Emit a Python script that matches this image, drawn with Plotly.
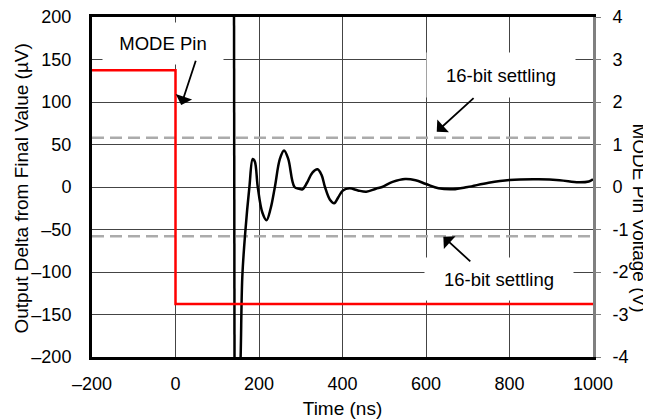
import plotly.graph_objects as go

# datos leidos de la grafica
# caida inicial de la salida (sale por arriba y entra por abajo)
t_caida = [140.0, 141.5]
v_caida = [260, -260]

# oscilacion y asentamiento de la salida (µV)
t_salida = [152, 156, 160, 167, 177, 185, 190, 197, 208, 218, 228, 238, 250, 260, 270,
            285, 296, 304, 315, 328, 340, 350, 358, 370, 380, 390, 401, 417, 437, 457,
            480, 495, 520, 550, 575, 600, 630, 665, 700, 750, 800, 870, 920, 965, 990, 1000]
v_salida = [-260, -200, -106, -54, 0, 33, 30, 0, -30, -39, -25, 0, 33, 43, 33,
            0, -2, -2.7, 5, 17, 20.8, 14, 0, -15, -19.2, -12, -4, -1.6, -4, -5.5,
            -2, 0, 6, 9.5, 8, 3.5, -1.5, -2.7, 0, 5, 8.2, 9, 8, 5.5, 6.5, 9]

# voltaje del pin MODE (V)
t_modo = [-200, 0, 0, 1000]
v_modo = [2.75, 2.75, -2.75, -2.75]

# limites de asentamiento de 16 bits (µV)
t_limite = [-200, 1000]
limite_sup = [58, 58]
limite_inf = [-58, -58]

# etiquetas de los ejes
x_ticks = [-200, 0, 200, 400, 600, 800, 1000]
x_text = ['–200', '0', '200', '400', '600', '800', '1000']
y_ticks = [-200, -150, -100, -50, 0, 50, 100, 150, 200]
y_text = ['–200', '–150', '–100', '–50', '0', '50', '100', '150', '200']
y2_ticks = [-4, -3, -2, -1, 0, 1, 2, 3, 4]
y2_text = ['-4', '-3', '-2', '-1', '0', '1', '2', '3', '4']

fuente = 'Liberation Sans, Arial, sans-serif'

fig = go.Figure()

# lineas de asentamiento
for lim in [limite_sup, limite_inf]:
    fig.add_trace(go.Scatter(x=t_limite, y=lim, mode='lines',
                             line=dict(color='#ababab', width=2.5, dash='12px,6px')))

# pin MODE en el eje derecho
fig.add_trace(go.Scatter(x=t_modo, y=v_modo, mode='lines', yaxis='y2',
                         line=dict(color='#ff0000', width=2.5)))

# salida
fig.add_trace(go.Scatter(x=t_caida, y=v_caida, mode='lines',
                         line=dict(color='black', width=2.5)))
fig.add_trace(go.Scatter(x=t_salida, y=v_salida, mode='lines',
                         line=dict(color='black', width=2.5, shape='spline')))

# textos con fondo blanco
fig.add_annotation(x=-29, y=169, text='MODE Pin', showarrow=False, bgcolor='white',
                   width=120, height=41, borderpad=0, font=dict(size=18.5))
fig.add_annotation(x=779, y=132, text='16-bit settling', showarrow=False, bgcolor='white',
                   width=148, height=44, borderpad=0, font=dict(size=18.5))
fig.add_annotation(x=775, y=-108, text='16-bit settling', showarrow=False, bgcolor='white',
                   width=148, height=42, borderpad=0, font=dict(size=18.5))

# flechas
flechas = [(13.7, 96.5, 49.7, 150.2), (625.7, 65.1, 717.6, 106.2), (641.5, -58.5, 709.7, -89.1)]
for x, y, ax, ay in flechas:
    fig.add_annotation(x=x, y=y, ax=ax, ay=ay, xref='x', yref='y', axref='x', ayref='y',
                       text='', showarrow=True, arrowhead=1, arrowsize=1.6,
                       arrowwidth=1.8, arrowcolor='black')

# titulos de los ejes y
fig.add_annotation(x=-0.14, y=0.495, xref='paper', yref='paper', text='Output Delta from Final Value (µV)',
                   textangle=-90, showarrow=False, xanchor='center', yanchor='middle',
                   font=dict(size=19))
fig.add_annotation(x=1.092, y=0.41, xref='paper', yref='paper', text='MODE Pin Voltage (V)',
                   textangle=90, showarrow=False, xanchor='center', yanchor='middle',
                   font=dict(size=19))

# la pagina deja 8 px de margen en el body, se descuentan aqui
fig.update_layout(
    width=643, height=411,
    margin=dict(l=84, r=58, t=9, b=62),
    plot_bgcolor='white', paper_bgcolor='white',
    showlegend=False,
    font=dict(family=fuente, size=18, color='black'),
    xaxis=dict(range=[-200, 1000], tickvals=x_ticks, ticktext=x_text, automargin=False,
               showgrid=True, gridcolor='#444', gridwidth=1, zeroline=False,
               showline=True, linecolor='black', linewidth=3, mirror=True,
               ticks='outside', ticklen=8, tickcolor='rgba(0,0,0,0)',
               ticklabeloverflow='allow',
               title=dict(text='Time (ns)', font=dict(size=19), standoff=10)),
    yaxis=dict(range=[-200, 200], tickvals=y_ticks, ticktext=y_text, automargin=False,
               showgrid=True, gridcolor='#444', gridwidth=1, zeroline=False,
               showline=True, linecolor='black', linewidth=3,
               ticks='outside', ticklen=14, tickcolor='rgba(0,0,0,0)',
               ticklabeloverflow='allow'),
    yaxis2=dict(range=[-4, 4], tickvals=y2_ticks, ticktext=y2_text, automargin=False,
                overlaying='y', side='right', showgrid=False, zeroline=False,
                showline=True, linecolor='#808080', linewidth=3,
                ticks='outside', ticklen=5, tickcolor='#808080', ticklabelstandoff=8,
                ticklabeloverflow='allow'),
)

fig.write_html('out.html')
